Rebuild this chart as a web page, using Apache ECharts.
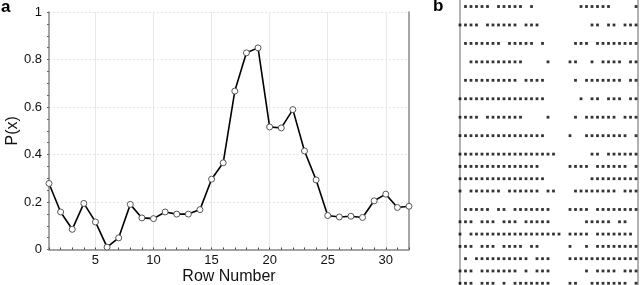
<!DOCTYPE html>
<html><head><meta charset="utf-8">
<script src="https://cdn.jsdelivr.net/npm/echarts@6/dist/echarts.min.js"></script>
<style>html,body{margin:0;padding:0;background:#fff}#c{width:640px;height:285px}</style>
</head><body><div id="c"></div>
<script>
// ---- Panel a data ----
const rowNumbers = [1,2,3,4,5,6,7,8,9,10,11,12,13,14,15,16,17,18,19,20,21,22,23,24,25,26,27,28,29,30,31,32];
const pValues = [0.278,0.158,0.085,0.194,0.116,0.010,0.049,0.190,0.133,0.130,0.158,0.149,0.149,0.168,0.296,0.365,
                 0.667,0.828,0.849,0.516,0.512,0.589,0.415,0.293,0.143,0.137,0.140,0.135,0.205,0.233,0.177,0.182];
const xLabelValues = [5,10,15,20,25,30];
const yTickInterval = 0.2;

// ---- Panel b data (binary pattern, '#' = dot) ----
const patternRows = [
  ".#####.#####.#........######....#",
  "####.######.###.........##.##.###",
  ".#######.#####.#.....###.########",
  "..##########....#...##..#.####.##",
  ".##########.####.....#.#######.##",
  "################......#.##.###.##",
  "####.#######....#....#.######.###",
  "################....#..########.#",
  "##################......##.######",
  "###############.....####.######.#",
  "################........#########",
  "#.######.######.##...########.###",
  ".#####.##.#######...####.########",
  "###.###.###.#####......#####.##..",
  "#.#################.####.#######.",
  "###.###.####.##.....#..#.########",
  ".#.##########.###...#############",
  "###.#######.#.###......#.####.###",
  "###.###.#.#######...##..#######.#"
];
const patternLine = [0,3,6,9,12,15,18,21,24,26,28,30,33,35,37,39,41,43,45];

const dots = [];
patternRows.forEach((s, r) => {
  for (let j = 0; j < s.length; j++) if (s[j] === '#') dots.push([j, patternLine[r]]);
});

const font = '"Liberation Sans", Arial, Helvetica, sans-serif';
const chart = echarts.init(document.getElementById('c'), null, {renderer: 'canvas'});
chart.setOption({
  animation: false,
  grid: [
    {left: 49, top: 12, width: 360, height: 237.5, outerBoundsMode: 'none', containLabel: false},
    {left: 459, top: 0, width: 178.5, height: 285, outerBoundsMode: 'none', containLabel: false}
  ],
  xAxis: [
    {gridIndex: 0, type: 'value', min: 1, max: 32, position: 'bottom',
     axisLine: {show: false},
     axisTick: {show: true, inside: true, length: 2, customValues: rowNumbers, lineStyle: {color: '#444', width: 1}},
     axisLabel: {customValues: xLabelValues, margin: 4, fontSize: 13, color: '#111', fontFamily: font},
     splitLine: {show: false},
     name: 'Row Number', nameLocation: 'middle', nameGap: 19, nameMoveOverlap: false,
     nameTextStyle: {fontSize: 16, color: '#111', fontFamily: font}},
    {gridIndex: 0, type: 'value', min: 1, max: 32, position: 'top',
     axisLine: {show: true, lineStyle: {color: '#888', width: 1.5}},
     axisTick: {show: false, customValues: xLabelValues}, axisLabel: {show: false},
     splitLine: {show: true, lineStyle: {color: '#e8e8e8', width: 1}}},
    {gridIndex: 1, type: 'value', min: -0.18, max: 32.27, show: false}
  ],
  yAxis: [
    {gridIndex: 0, type: 'value', min: 0, max: 1, interval: yTickInterval, position: 'left',
     axisLine: {show: true, lineStyle: {color: '#888', width: 1.5}},
     axisTick: {show: true, length: 2, lineStyle: {color: '#666'}},
     minorTick: {show: true, splitNumber: 4, length: 2, lineStyle: {color: '#666'}},
     axisLabel: {margin: 7, fontSize: 13, color: '#111', fontFamily: font},
     splitLine: {show: true, lineStyle: {color: '#e6e6e6', type: [2, 2]}},
     name: 'P(x)', nameLocation: 'middle', nameGap: 28, nameMoveOverlap: false,
     nameTextStyle: {fontSize: 16, color: '#111', fontFamily: font}},
    {gridIndex: 0, type: 'value', min: 0, max: 1, interval: yTickInterval, position: 'right',
     axisLine: {show: true, lineStyle: {color: '#888', width: 1.5}},
     axisTick: {show: false}, axisLabel: {show: false}, splitLine: {show: false}},
    {gridIndex: 1, type: 'value', inverse: true, min: -1.06, max: 45.28, position: 'left',
     axisLine: {show: true, lineStyle: {color: '#999', width: 1.5}},
     axisTick: {show: false}, axisLabel: {show: false}, splitLine: {show: false}},
    {gridIndex: 1, type: 'value', inverse: true, min: -1.06, max: 45.28, position: 'right',
     axisLine: {show: true, lineStyle: {color: '#999', width: 1.5}},
     axisTick: {show: false}, axisLabel: {show: false}, splitLine: {show: false}}
  ],
  series: [
    {type: 'line', xAxisIndex: 0, yAxisIndex: 0, clip: false,
     data: rowNumbers.map((x, i) => [x, pValues[i]]),
     symbol: 'circle', symbolSize: 6, showAllSymbol: true,
     lineStyle: {color: '#000', width: 1.6},
     itemStyle: {color: '#fff', borderColor: '#555', borderWidth: 1}},
    {type: 'scatter', xAxisIndex: 2, yAxisIndex: 2, data: dots, silent: true,
     symbol: 'rect', symbolSize: 2.8, itemStyle: {color: '#000'}}
  ],
  graphic: [
    {type: 'text', left: 1, top: -1, style: {text: 'a', font: 'bold 17px ' + font, fill: '#000'}},
    {type: 'text', left: 433, top: -2, style: {text: 'b', font: 'bold 17px ' + font, fill: '#000'}}
  ]
});
</script>
</body></html>
